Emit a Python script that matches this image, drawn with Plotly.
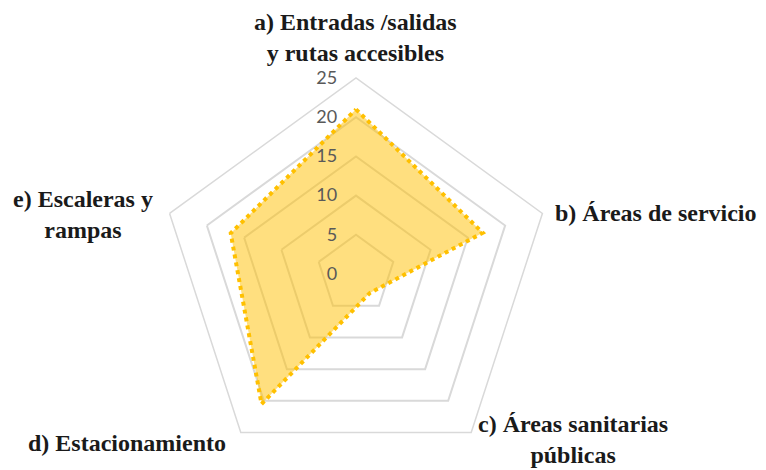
import plotly.graph_objects as go

categories = ["a) Entradas /salidas<br>y rutas accesibles", "b) Áreas de servicio",
              "c) Áreas sanitarias<br>públicas", "d) Estacionamiento", "e) Escaleras y<br>rampas"]
values = [21, 17, 3, 20.5, 16.8]
radial_ticks = [0, 5, 10, 15, 20, 25]

# label placement (paper coords) for each category
label_x = [0.464, 0.722, 0.748, 0.166, 0.109]
label_y = [0.921, 0.547, 0.0, 0.057, 0.543]
label_xanchor = ["center", "left", "center", "center", "center"]
label_yanchor = ["middle", "middle", "bottom", "middle", "middle"]

theta = [str(i) for i in range(len(categories))]

fig = go.Figure()
fig.add_trace(go.Scatterpolar(
    r=values + [values[0]],
    theta=theta + [theta[0]],
    mode="lines",
    fill="toself",
    fillcolor="rgba(255,192,0,0.5)",
    line=dict(color="#FFC000", width=4, dash="dot"),
    hoverinfo="skip",
    showlegend=False,
))

cx, cy, R = 356, 274, 196
W, H = 766, 470
fig.update_layout(
    width=W, height=H,
    margin=dict(l=0, r=0, t=0, b=0),
    paper_bgcolor="white",
    plot_bgcolor="white",
    polar=dict(
        bgcolor="white",
        gridshape="linear",
        domain=dict(x=[(cx - R) / W, (cx + R) / W], y=[max(0, (H - cy - R) / H), (H - cy + R) / H]),
        radialaxis=dict(
            range=[0, 25],
            tickvals=radial_ticks,
            ticktext=[str(t) for t in radial_ticks],
            angle=90,
            tickangle=90,
            side="counterclockwise",
            showline=False,
            ticks="outside",
            ticklen=12,
            tickcolor="rgba(0,0,0,0)",
            gridcolor="#D9D9D9",
            gridwidth=1.5,
            tickfont=dict(family="Lato", size=18, color="#595959"),
        ),
        angularaxis=dict(
            type="category",
            categoryarray=theta,
            rotation=90,
            direction="clockwise",
            showgrid=False,
            showline=True,
            linecolor="#D9D9D9",
            linewidth=1.5,
            ticks="",
            showticklabels=False,
        ),
    ),
)

for txt, x, y, xa, ya in zip(categories, label_x, label_y, label_xanchor, label_yanchor):
    fig.add_annotation(
        text=txt, x=x, y=y, xref="paper", yref="paper",
        xanchor=xa, yanchor=ya, showarrow=False, align="center",
        font=dict(family="Liberation Serif", size=24, color="#1a1a1a", weight="bold"),
    )

fig.write_html("out.html", config={"displayModeBar": False},
               post_script="document.body.style.margin='0';")
